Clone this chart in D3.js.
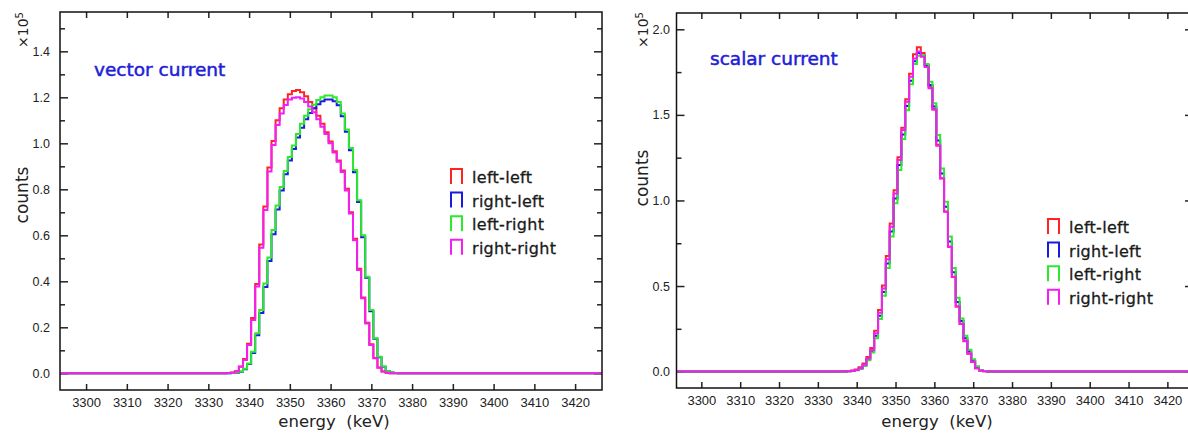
<!DOCTYPE html>
<html>
<head>
<meta charset="utf-8">
<script src="https://cdn.jsdelivr.net/npm/d3@7"></script>
<style>
  body { margin: 0; background: #fff; }
  text { font-family: "DejaVu Sans", sans-serif; }
</style>
</head>
<body>
<svg id="chart" width="1188" height="434"></svg>
<script>
// bin centres (keV), 1 keV bins
const binEnergy = [3334, 3335, 3336, 3337, 3338, 3339, 3340, 3341, 3342, 3343, 3344,
                   3345, 3346, 3347, 3348, 3349, 3350, 3351, 3352, 3353, 3354, 3355,
                   3356, 3357, 3358, 3359, 3360, 3361, 3362, 3363, 3364, 3365, 3366,
                   3367, 3368, 3369, 3370, 3371, 3372, 3373, 3374, 3375, 3376, 3377];

const seriesNames = ["left-left", "right-left", "left-right", "right-right"];
const seriesColors = ["#ff2424", "#1a1ae0", "#2ee82e", "#f21ef2"];

// vector current, counts in units of 1e5
const vecLeftLeft = [0, 0.001, 0.003, 0.009, 0.030, 0.062, 0.128, 0.240, 0.388, 0.560, 0.725,
                     0.895, 1.010, 1.100, 1.152, 1.190, 1.213, 1.228, 1.232, 1.222, 1.205, 1.180,
                     1.152, 1.120, 1.085, 1.048, 1.008, 0.965, 0.925, 0.882, 0.802, 0.700, 0.585,
                     0.455, 0.330, 0.220, 0.126, 0.066, 0.025, 0.008, 0.002, 0, 0, 0];
const vecRightLeft = [0, 0, 0.001, 0.002, 0.007, 0.018, 0.040, 0.088, 0.165, 0.262, 0.375,
                      0.488, 0.605, 0.712, 0.795, 0.865, 0.925, 0.975, 1.025, 1.068, 1.105, 1.132,
                      1.152, 1.170, 1.183, 1.190, 1.190, 1.183, 1.165, 1.118, 1.050, 0.970, 0.874,
                      0.745, 0.592, 0.415, 0.270, 0.150, 0.070, 0.029, 0.010, 0.003, 0.001, 0];
const vecLeftRight = [0, 0, 0.001, 0.003, 0.008, 0.020, 0.043, 0.094, 0.174, 0.275, 0.391,
                      0.504, 0.623, 0.730, 0.810, 0.880, 0.940, 0.990, 1.040, 1.085, 1.120, 1.148,
                      1.168, 1.188, 1.200, 1.208, 1.208, 1.200, 1.180, 1.130, 1.060, 0.980, 0.884,
                      0.753, 0.600, 0.420, 0.275, 0.152, 0.072, 0.030, 0.010, 0.003, 0.001, 0];
const vecRightRight = [0, 0.001, 0.002, 0.008, 0.028, 0.058, 0.123, 0.232, 0.377, 0.546, 0.710,
                       0.877, 0.993, 1.080, 1.130, 1.167, 1.190, 1.198, 1.200, 1.195, 1.180, 1.160,
                       1.135, 1.105, 1.072, 1.040, 1.000, 0.960, 0.920, 0.875, 0.795, 0.695, 0.578,
                       0.449, 0.326, 0.217, 0.123, 0.065, 0.024, 0.008, 0.002, 0, 0, 0];

// scalar current, counts in units of 1e5
const scaLeftLeft = [0, 0, 0.001, 0.002, 0.003, 0.006, 0.013, 0.025, 0.047, 0.085, 0.138,
                     0.238, 0.360, 0.503, 0.675, 0.866, 1.060, 1.252, 1.425, 1.592, 1.740, 1.855,
                     1.895, 1.862, 1.790, 1.665, 1.535, 1.325, 1.130, 0.935, 0.730, 0.553, 0.380,
                     0.278, 0.178, 0.105, 0.056, 0.020, 0.006, 0.002, 0.001, 0, 0, 0];
const scaRightLeft = [0, 0, 0.001, 0.001, 0.002, 0.004, 0.009, 0.018, 0.036, 0.071, 0.118,
                      0.210, 0.326, 0.465, 0.632, 0.818, 1.012, 1.207, 1.385, 1.552, 1.700, 1.814,
                      1.862, 1.845, 1.789, 1.674, 1.549, 1.351, 1.158, 0.963, 0.760, 0.580, 0.406,
                      0.295, 0.195, 0.117, 0.064, 0.025, 0.008, 0.003, 0.001, 0, 0, 0];
const scaLeftRight = [0, 0, 0.001, 0.001, 0.002, 0.003, 0.008, 0.017, 0.034, 0.066, 0.111,
                      0.195, 0.308, 0.443, 0.605, 0.789, 0.983, 1.178, 1.359, 1.527, 1.679, 1.798,
                      1.845, 1.849, 1.798, 1.693, 1.568, 1.383, 1.186, 0.993, 0.790, 0.606, 0.432,
                      0.310, 0.210, 0.128, 0.072, 0.031, 0.010, 0.003, 0.001, 0, 0, 0];
const scaRightRight = [0, 0, 0.001, 0.001, 0.002, 0.004, 0.010, 0.020, 0.040, 0.077, 0.126,
                       0.224, 0.344, 0.486, 0.656, 0.846, 1.041, 1.236, 1.411, 1.577, 1.723, 1.830,
                       1.870, 1.840, 1.780, 1.655, 1.530, 1.320, 1.129, 0.934, 0.729, 0.554, 0.380,
                       0.280, 0.180, 0.106, 0.057, 0.020, 0.006, 0.002, 0.001, 0, 0, 0];

const xTicks = [3300, 3310, 3320, 3330, 3340, 3350, 3360, 3370, 3380, 3390, 3400, 3410, 3420];
const vecYTicks = [0, 0.2, 0.4, 0.6, 0.8, 1.0, 1.2, 1.4];
const vecYMinor = [0.1, 0.3, 0.5, 0.7, 0.9, 1.1, 1.3, 1.5];
const scaYTicks = [0, 0.5, 1.0, 1.5, 2.0];
const scaYMinor = [0.25, 0.75, 1.25, 1.75];

const xDomain = [3293.6, 3426.6];

const svg = d3.select("#chart");

function drawPanel(p) {
  let x = d3.scaleLinear().domain(xDomain).range([p.left, p.right]);
  let y = d3.scaleLinear().domain(p.yDomain).range([p.bottom, p.top]);

  // axes, ticks pointing inwards
  let bottomAxis = svg.append("g")
    .attr("transform", "translate(0," + p.bottom + ")")
    .call(d3.axisBottom(x).tickValues(xTicks).tickSize(-6).tickPadding(p.xPad).tickFormat(d3.format("d")));
  svg.append("g")
    .attr("transform", "translate(0," + p.top + ")")
    .call(d3.axisTop(x).tickValues(xTicks).tickSize(-6).tickFormat(""));
  let leftAxis = svg.append("g")
    .attr("transform", "translate(" + p.left + ",0)")
    .call(d3.axisLeft(y).tickValues(p.yTicks).tickSize(-8).tickPadding(p.yPad).tickFormat(d3.format(".1f")));
  svg.append("g")
    .attr("transform", "translate(" + p.left + ",0)")
    .call(d3.axisLeft(y).tickValues(p.yMinor).tickSize(-5).tickFormat(""));
  svg.append("g")
    .attr("transform", "translate(" + p.right + ",0)")
    .call(d3.axisRight(y).tickValues(p.yTicks).tickSize(-8).tickFormat(""));
  svg.append("g")
    .attr("transform", "translate(" + p.right + ",0)")
    .call(d3.axisRight(y).tickValues(p.yMinor).tickSize(-5).tickFormat(""));

  svg.selectAll(".domain").remove();
  svg.selectAll(".tick line").attr("stroke", "#222").attr("stroke-width", 1.5);
  bottomAxis.selectAll("text").style("font-family", "Liberation Sans, sans-serif").style("font-size", "13px").attr("fill", "#222");
  leftAxis.selectAll("text").style("font-family", "Liberation Sans, sans-serif").style("font-size", "12.5px").attr("fill", "#222");

  // histograms
  let clipId = "clip" + p.left;
  svg.append("clipPath").attr("id", clipId)
    .append("rect")
      .attr("x", p.left).attr("y", p.top)
      .attr("width", p.right - p.left).attr("height", p.bottom - p.top);

  let line = d3.line()
    .x(function(d) { return x(d[0]); })
    .y(function(d) { return y(d[1]); })
    .curve(d3.curveStepAfter);

  p.series.forEach(function(vals, i) {
    let pts = [[xDomain[0], 0]];
    vals.forEach(function(v, j) { pts.push([binEnergy[j] - 0.5, v]); });
    pts.push([binEnergy[binEnergy.length - 1] + 0.5, 0]);
    pts.push([xDomain[1], 0]);
    svg.append("path")
      .attr("clip-path", "url(#" + clipId + ")")
      .attr("d", line(pts))
      .attr("fill", "none")
      .attr("stroke", seriesColors[i])
      .attr("stroke-width", 2);
  });

  // frame
  svg.append("rect")
    .attr("x", p.left).attr("y", p.top)
    .attr("width", p.right - p.left).attr("height", p.bottom - p.top)
    .attr("fill", "none").attr("stroke", "#111").attr("stroke-width", 1.5);

  // titles
  svg.append("text")
    .attr("x", p.titleX).attr("y", p.titleY)
    .attr("fill", "#2020d8")
    .attr("stroke", "#2020d8").attr("stroke-width", 0.5)
    .style("font-size", "18.5px")
    .text(p.title);

  let mult = svg.append("text")
    .attr("transform", "translate(" + p.multX + "," + p.multY + ") rotate(-90)")
    .attr("fill", "#222")
    .style("font-size", "14px");
  mult.append("tspan").text("×10");
  mult.append("tspan").attr("dy", -5).style("font-size", "10px").text("5");

  svg.append("text")
    .attr("transform", "translate(" + p.multX + "," + p.countsY + ") rotate(-90)")
    .attr("text-anchor", "middle")
    .attr("fill", "#222")
    .style("font-size", "17px")
    .text("counts");

  svg.append("text")
    .attr("x", p.energyX).attr("y", 427)
    .attr("text-anchor", "middle")
    .attr("fill", "#222")
    .style("font-size", "16.5px")
    .style("white-space", "pre")
    .text("energy  (keV)");

  // legend
  let leg = svg.append("g").attr("transform", "translate(" + p.legX + "," + p.legY + ")");
  seriesNames.forEach(function(name, i) {
    let row = leg.append("g").attr("transform", "translate(0," + (i * 23.6) + ")");
    row.append("path")
      .attr("d", "M1,16V1H12V16")
      .attr("fill", "none")
      .attr("stroke", seriesColors[i])
      .attr("stroke-width", 2);
    row.append("text")
      .attr("x", 22).attr("y", 15)
      .attr("fill", "#1a1a1a")
      .attr("stroke", "#1a1a1a").attr("stroke-width", 0.3)
      .style("font-size", "16px")
      .style("letter-spacing", "0.3px")
      .text(name);
  });
}

drawPanel({
  left: 60, right: 602, top: 12, bottom: 390,
  yDomain: [-0.0726, 1.571], yTicks: vecYTicks, yMinor: vecYMinor,
  xPad: 7.5, yPad: 10,
  series: [vecLeftLeft, vecRightLeft, vecLeftRight, vecRightRight],
  title: "vector current", titleX: 94, titleY: 76,
  multX: 28, multY: 48, countsY: 195, energyX: 334,
  legX: 450, legY: 168
});

drawPanel({
  left: 676.5, right: 1193, top: 13, bottom: 388,
  yDomain: [-0.0958, 2.0953], yTicks: scaYTicks, yMinor: scaYMinor,
  xPad: 8, yPad: 6.5,
  series: [scaLeftLeft, scaRightLeft, scaLeftRight, scaRightRight],
  title: "scalar current", titleX: 710, titleY: 65,
  multX: 648, multY: 48, countsY: 178, energyX: 937,
  legX: 1047, legY: 218
});
</script>
</body>
</html>
